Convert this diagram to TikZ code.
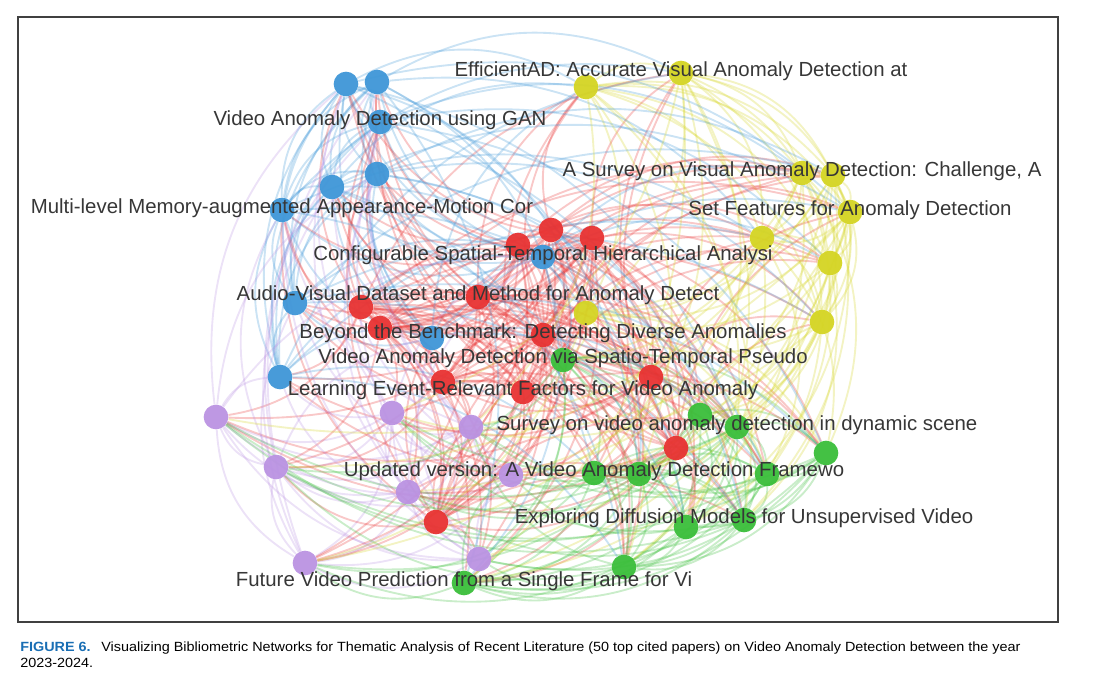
\documentclass[tikz,border=0pt]{standalone}
\usepackage{fontspec}
\setmainfont{Liberation Sans}
\newfontfamily\capfont[FakeStretch=1.08]{Liberation Sans}
\usepackage{tikz}
\usetikzlibrary{backgrounds}

\definecolor{clred}{RGB}{232,50,50}
\definecolor{clgreen}{RGB}{58,190,58}
\definecolor{clblue}{RGB}{62,150,215}
\definecolor{clyellow}{RGB}{212,212,35}
\definecolor{clpurple}{RGB}{186,146,226}
\definecolor{lbltext}{RGB}{55,55,55}
\definecolor{capblue}{RGB}{25,110,180}

\begin{document}
\begin{tikzpicture}[x=0.75pt, y=-0.75pt,
	paper/.style={circle, minimum size=18.5pt, inner sep=0pt, fill=#1, fill opacity=0.95},
	title/.style={font=\fontsize{15.3}{18}\selectfont, text=lbltext, inner sep=0pt, yshift=1.5pt},
	link/.style={draw=#1, draw opacity=0.27, line width=1.4pt},
	every to/.style={bend left=28}]
	
	\useasboundingbox (0,0) rectangle (1117,679);
	\draw[black!75, line width=0.8pt] (18,17) rectangle (1058,622);
	
	% papers, one colour per cluster
	\foreach \n/\x/\y in {1/346/84, 2/377/82, 3/380/122, 4/377/174, 5/332/187, 6/282/210, 7/543/257, 8/295/303, 9/432/338, 10/280/377}
		\node[paper=clblue] (b\n) at (\x,\y) {};
	\foreach \n/\x/\y in {1/551/230, 2/592/238, 3/518/245, 4/478/297, 5/361/307, 6/380/328, 7/543/335, 8/651/377, 9/443/382, 10/523/392, 11/676/448, 12/436/522}
		\node[paper=clred] (r\n) at (\x,\y) {};
	\foreach \n/\x/\y in {1/586/87, 2/681/73, 3/802/173, 4/833/175, 5/850/212, 6/762/238, 7/830/263, 8/822/322, 9/586/313}
		\node[paper=clyellow] (y\n) at (\x,\y) {};
	\foreach \n/\x/\y in {1/563/360, 2/700/415, 3/737/427, 4/826/453, 5/594/473, 6/639/474, 7/767/474, 8/686/527, 9/744/520, 10/624/567, 11/464/583}
		\node[paper=clgreen] (g\n) at (\x,\y) {};
	\foreach \n/\x/\y in {1/216/417, 2/276/467, 3/305/563, 4/392/413, 5/471/427, 6/511/475, 7/408/492, 8/479/559}
		\node[paper=clpurple] (p\n) at (\x,\y) {};
	
	% labels
	\node[title] (tb3) at (b3) {Video Anomaly Detection using GAN};
	\node[title] (tb6) at (b6) {Multi-level Memory-augmented Appearance-Motion Cor};
	\node[title] (tb7) at (b7) {Configurable Spatial-Temporal Hierarchical Analysi};
	\node[title] (tr4) at (r4) {Audio-Visual Dataset and Method for Anomaly Detect};
	\node[title] (tr7) at (r7) {Beyond the Benchmark: Detecting Diverse Anomalies};
	\node[title] (tg1) at (g1) {Video Anomaly Detection via Spatio-Temporal Pseudo};
	\node[title] (tr10) at (r10) {Learning Event-Relevant Factors for Video Anomaly};
	\node[title] (tg3) at (g3) {Survey on video anomaly detection in dynamic scene};
	\node[title] (tg5) at (g5) {Updated version: A Video Anomaly Detection Framewo};
	\node[title] (tg9) at (g9) {Exploring Diffusion Models for Unsupervised Video};
	\node[title] (tg11) at (g11) {Future Video Prediction from a Single Frame for Vi};
	\node[title] (ty2) at (y2) {EfficientAD: Accurate Visual Anomaly Detection at};
	\node[title] (ty3) at (y3) {A Survey on Visual Anomaly Detection: Challenge, A};
	\node[title] (ty5) at (y5) {Set Features for Anomaly Detection};
	
	\begin{pgfonlayer}{background}
	% links inside a cluster
	\foreach \i in {1,...,10} \foreach \j in {1,...,10} {\ifnum\i<\j\relax \draw[link=clblue] (b\j) to (b\i); \fi}
	\foreach \i in {1,...,12} \foreach \j in {1,...,12} {\ifnum\i<\j\relax \draw[link=clred] (r\i) to (r\j); \fi}
	\foreach \i in {1,...,9} \foreach \j in {1,...,9} {\ifnum\i<\j\relax \draw[link=clyellow] (y\i) to (y\j); \fi}
	\foreach \i in {1,...,11} \foreach \j in {1,...,11} {\ifnum\i<\j\relax \draw[link=clgreen] (g\i) to (g\j); \fi}
	\foreach \i in {1,...,8} \foreach \j in {1,...,8} {\ifnum\i<\j\relax \draw[link=clpurple] (p\j) to (p\i); \fi}
	% links between clusters
	\foreach \i in {1,...,12} \foreach \j in {1,...,9} {\pgfmathtruncatemacro\k{mod(\i+2*\j,3)}
		\ifnum\k=0\relax \draw[link=clred] (r\i) to (y\j); \fi}
	\foreach \i in {1,...,12} \foreach \j in {1,...,11} {\pgfmathtruncatemacro\k{mod(2*\i+\j,3)}
		\ifnum\k=0\relax \draw[link=clred] (r\i) to (g\j); \fi}
	\foreach \i in {1,...,12} \foreach \j in {1,...,10} {\pgfmathtruncatemacro\k{mod(\i+\j,3)}
		\ifnum\k=0\relax \draw[link=clred] (r\i) to (b\j); \fi}
	\foreach \i in {1,...,12} \foreach \j in {1,...,8} {\pgfmathtruncatemacro\k{mod(\i+2*\j,3)}
		\ifnum\k=1\relax \draw[link=clred] (r\i) to (p\j); \fi}
	\foreach \i in {1,...,9} \foreach \j in {1,...,11} {\pgfmathtruncatemacro\k{mod(\i+\j,3)}
		\ifnum\k=1\relax \draw[link=clyellow] (y\i) to (g\j); \fi}
	\foreach \i in {1,...,10} \foreach \j in {1,...,9} {\pgfmathtruncatemacro\k{mod(\i+3*\j,4)}
		\ifnum\k=0\relax \draw[link=clblue] (b\i) to (y\j); \fi}
	\foreach \i in {1,...,10} \foreach \j in {1,...,8} {\pgfmathtruncatemacro\k{mod(\i+\j,3)}
		\ifnum\k=2\relax \draw[link=clpurple] (p\j) to (b\i); \fi}
	\foreach \i in {1,...,11} \foreach \j in {1,...,8} {\pgfmathtruncatemacro\k{mod(\i+2*\j,3)}
		\ifnum\k=2\relax \draw[link=clgreen] (g\i) to (p\j); \fi}
	\foreach \i in {1,...,10} \foreach \j in {1,...,11} {\pgfmathtruncatemacro\k{mod(2*\i+\j,5)}
		\ifnum\k=0\relax \draw[link=clblue] (b\i) to (g\j); \fi}
	\foreach \i in {1,...,9} \foreach \j in {1,...,8} {\pgfmathtruncatemacro\k{mod(\i+\j,6)}
		\ifnum\k=0\relax \draw[link=clyellow] (y\i) to (p\j); \fi}
	\end{pgfonlayer}
	
	% caption
	\node[anchor=base west, inner sep=0pt, font=\capfont\fontsize{10}{12}\selectfont] (cap1) at (20,651)
		{\textcolor{capblue}{\bfseries FIGURE 6.}\hspace{8pt}Visualizing Bibliometric Networks for Thematic Analysis of Recent Literature (50 top cited papers) on Video Anomaly Detection between the year};
	\node[anchor=base west, inner sep=0pt, font=\capfont\fontsize{10}{12}\selectfont] (cap2) at (20,667) {2023-2024.};
	
\end{tikzpicture}
\end{document}
